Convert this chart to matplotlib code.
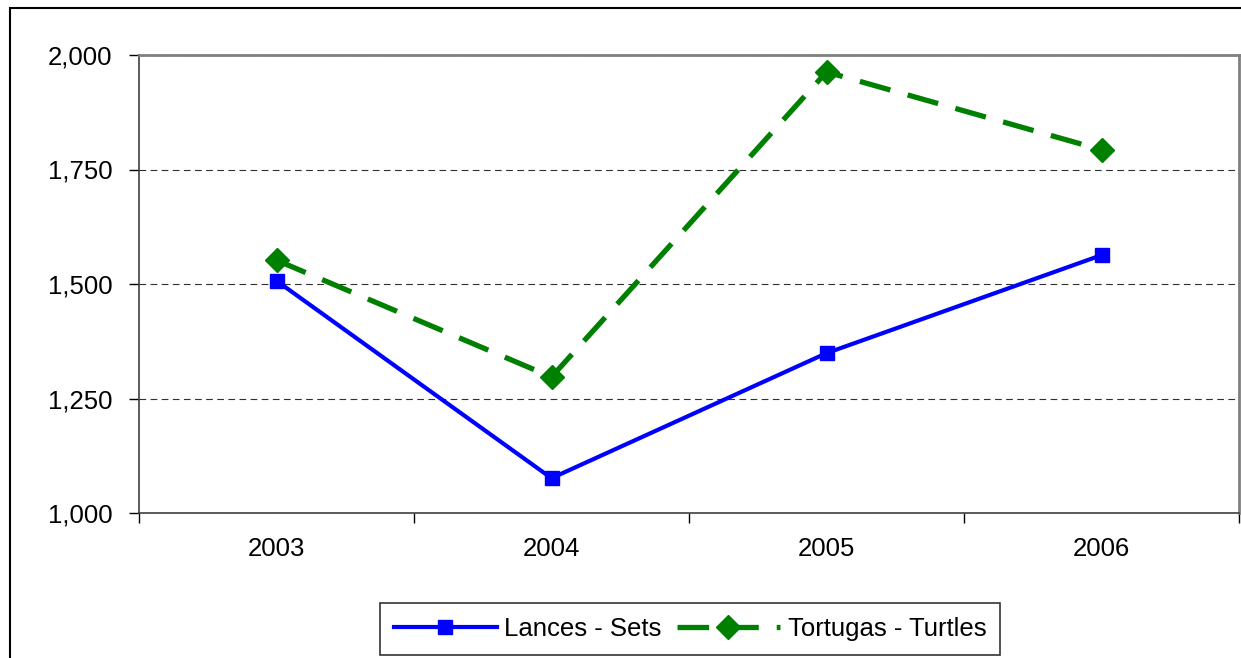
import matplotlib
matplotlib.use('Agg')
import matplotlib.pyplot as plt
from matplotlib.patches import Rectangle

# data
years = ['2003', '2004', '2005', '2006']
lances = [1507, 1076, 1349, 1563]
tortugas = [1552, 1297, 1963, 1793]

plt.rcParams['font.family'] = ['Liberation Sans', 'DejaVu Sans']

W, H = 1241, 658
fig = plt.figure(figsize=(W / 100, H / 100), dpi=100)
ax = fig.add_axes([139 / W, 1 - 513 / H, 1100 / W, 458 / H])

# outer chart border (only left/top visible in the crop)
fig.patches.append(Rectangle((10 / W, -0.1), 1.2, 1 - 8 / H + 0.1, transform=fig.transFigure,
                             fill=False, edgecolor='black', linewidth=1.5))

x = range(len(years))
ax.plot(x, lances, color='#0000ff', linewidth=3, marker='s', markersize=10.5,
        label='Lances - Sets', zorder=3)
ax.plot(x, tortugas, color='#008000', linewidth=3.8, dashes=(6, 3.4), marker='D', markersize=12,
        label='Tortugas - Turtles', zorder=3)

ax.set_xlim(-0.5, 3.5)
ax.set_ylim(1000, 2000)
ax.set_yticks([1000, 1250, 1500, 1750, 2000])
ax.set_yticklabels(['1,000', '1,250', '1,500', '1,750', '2,000'])
ax.yaxis.grid(True, color='#303030', linestyle=(0, (6, 4)), linewidth=0.8)
ax.set_axisbelow(True)

ax.set_xticks([-0.5, 0.5, 1.5, 2.5, 3.5])
ax.set_xticklabels([])
ax.set_xticks(list(x), minor=True)
ax.set_xticklabels(years, minor=True)
ax.tick_params(axis='x', which='minor', length=0, pad=17, labelsize=18.5)
ax.tick_params(axis='x', which='major', length=7, width=1, direction='out')
ax.tick_params(axis='y', length=7, width=1, direction='out', labelsize=18.5, pad=12)

for s in ['top', 'right']:
    ax.spines[s].set_color('#808080')
    ax.spines[s].set_linewidth(2)
for s in ['left', 'bottom']:
    ax.spines[s].set_color('#404040')
    ax.spines[s].set_linewidth(1.2)

leg = ax.legend(loc='upper center', bbox_to_anchor=(690 / W, 1 - 603 / H), bbox_transform=fig.transFigure,
                ncol=2, frameon=True, fancybox=False, edgecolor='black', fontsize=18.5,
                handlelength=4.0, columnspacing=0.6, handletextpad=0.3, borderpad=0.55,
                borderaxespad=0)
leg.get_frame().set_linewidth(1.2)

fig.savefig('out.png', dpi=100)
